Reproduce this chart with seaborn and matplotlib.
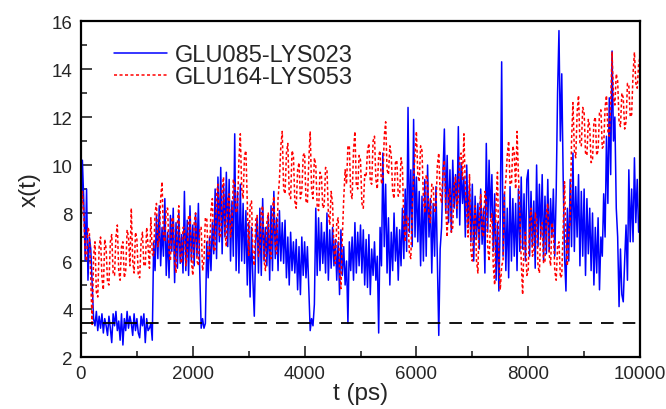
import numpy as np
import matplotlib
matplotlib.use("Agg")
import matplotlib.pyplot as plt
import seaborn as sns
from matplotlib.ticker import MultipleLocator

# GLU085-LYS023 distance, one sample every 25 ps
glu085_lys023 = [
    7.0, 10.2, 8.5, 6.0, 9.0, 5.2, 7.0, 6.5, 5.0, 3.6, 3.3, 3.9, 3.1, 3.7, 3.2, 3.8, 3.0, 3.6, 3.3, 2.9,
    3.7, 3.2, 2.6, 3.8, 3.3, 3.9, 3.1, 3.5, 2.7, 3.8, 2.5, 3.6, 3.1, 3.9, 3.2, 3.7, 3.4, 2.9, 3.8, 3.1,
    3.6, 3.0, 2.8, 3.7, 3.3, 3.8, 2.6, 3.6, 3.1, 3.2, 3.4, 2.7, 6.8, 5.6, 7.9, 6.1, 8.3, 5.8, 7.4, 6.2,
    8.6, 5.4, 7.2, 5.3, 7.9, 6.4, 8.2, 5.1, 7.6, 5.7, 8.0, 5.9, 7.1, 5.5, 8.9, 5.6, 7.7, 5.4, 8.3, 6.0,
    7.5, 5.8, 8.0, 6.2, 8.4, 5.5, 3.2, 3.6, 3.2, 3.4, 6.8, 5.3, 7.0, 5.6, 7.6, 6.3, 9.0, 6.1, 9.5, 6.8,
    9.9, 6.3, 9.2, 7.0, 9.7, 6.6, 9.4, 6.0, 8.5, 6.2, 11.3, 5.6, 8.9, 5.5, 9.2, 6.0, 8.4, 5.9, 8.1, 5.0,
    7.6, 4.5, 7.4, 5.2, 3.7, 6.8, 7.8, 5.5, 8.2, 5.4, 8.6, 6.0, 7.4, 5.8, 7.9, 5.2, 8.3, 5.6, 8.9, 6.1,
    7.8, 5.6, 8.1, 6.0, 7.6, 5.9, 7.7, 5.3, 7.0, 5.0, 7.2, 5.6, 6.8, 5.5, 6.9, 4.8, 6.6, 4.6, 7.0, 5.4,
    6.8, 5.3, 6.6, 4.9, 3.1, 3.6, 3.3, 4.2, 8.2, 5.4, 7.8, 5.6, 7.6, 5.9, 7.2, 5.5, 8.0, 5.2, 7.3, 5.7,
    7.4, 5.8, 6.9, 5.2, 6.8, 4.6, 7.3, 5.4, 6.6, 5.0, 6.0, 3.4, 6.8, 5.6, 7.0, 5.2, 7.6, 5.5, 7.2, 5.8,
    7.5, 5.5, 7.3, 5.0, 6.9, 4.9, 7.1, 4.6, 6.5, 5.4, 6.8, 5.2, 6.2, 3.0, 7.4, 5.8, 10.5, 6.6, 9.2, 5.5,
    7.8, 5.0, 7.2, 5.6, 8.0, 6.0, 7.4, 5.2, 7.3, 5.8, 8.2, 6.1, 9.0, 6.4, 12.4, 7.2, 9.8, 6.6, 11.9, 7.0,
    9.5, 6.8, 8.9, 5.8, 8.7, 6.0, 9.4, 6.2, 10.0, 7.0, 8.6, 5.5, 8.4, 6.2, 9.1, 5.9, 2.9, 6.5, 7.4, 9.6,
    11.5, 8.0, 10.4, 7.6, 9.8, 7.2, 10.2, 8.2, 9.6, 7.8, 11.6, 7.5, 10.1, 8.4, 9.5, 7.0, 10.0, 7.4, 9.2, 6.8,
    9.2, 6.0, 8.7, 6.9, 8.4, 6.5, 9.0, 6.7, 8.2, 5.5, 10.9, 7.2, 10.2, 7.8, 9.6, 6.4, 8.8, 5.2, 7.6, 4.75,
    7.8, 14.3, 6.2, 8.8, 5.6, 8.2, 5.3, 9.1, 6.0, 8.6, 6.2, 8.4, 5.6, 9.0, 6.4, 9.5, 6.5, 8.8, 6.0, 9.4,
    9.8, 6.2, 8.9, 6.6, 8.5, 5.7, 10.0, 6.6, 9.2, 7.0, 9.6, 6.0, 8.7, 6.3, 9.4, 6.4, 8.6, 7.0, 9.0, 6.2,
    8.8, 13.0, 15.6, 11.0, 13.8, 9.5, 6.2, 4.75, 8.2, 6.0, 9.4, 6.6, 10.5, 6.4, 9.1, 7.0, 9.6, 5.8, 8.9, 6.2,
    9.0, 5.4, 8.6, 6.3, 8.2, 5.6, 8.0, 5.0, 7.4, 5.5, 7.8, 4.8, 7.0, 6.2, 8.8, 7.0, 11.2, 8.4, 12.8, 9.6,
    14.75, 11.0, 12.0, 8.2, 7.0, 4.1, 6.5, 4.6, 4.3, 6.0, 7.5, 5.2, 9.8, 6.8, 9.0, 6.8, 10.3, 7.6, 9.4, 7.2,
    7.5,
]

# GLU164-LYS053 distance, one sample every 25 ps
glu164_lys053 = [
    7.5, 8.9, 8.0, 6.3, 6.0, 7.4, 7.2, 5.2, 3.3, 6.2, 6.8, 4.7, 4.5, 6.6, 7.0, 5.3, 4.8, 6.9, 6.5, 5.1,
    5.0, 6.8, 7.1, 5.5, 5.4, 7.0, 7.5, 5.6, 5.2, 6.6, 6.8, 5.3, 5.6, 7.3, 7.0, 5.8, 8.2, 6.0, 5.5, 7.2,
    6.9, 5.4, 5.3, 6.8, 7.2, 5.8, 5.8, 7.4, 6.6, 5.7, 7.8, 6.3, 6.2, 8.0, 8.4, 6.6, 6.9, 8.6, 9.3, 7.0,
    6.8, 8.2, 8.2, 6.4, 6.0, 7.8, 7.8, 6.0, 5.5, 7.6, 8.3, 6.1, 5.9, 7.4, 7.4, 5.8, 6.2, 7.9, 7.9, 6.0,
    5.4, 7.6, 8.0, 6.0, 5.8, 7.4, 7.4, 5.6, 6.0, 7.8, 7.8, 6.1, 6.3, 8.1, 8.6, 6.4, 6.5, 8.8, 9.2, 7.0,
    7.0, 9.0, 9.5, 7.2, 6.6, 8.6, 8.8, 7.0, 7.5, 9.4, 9.2, 8.0, 8.2, 10.2, 11.3, 9.0, 8.6, 10.4, 10.6, 8.4,
    6.2, 8.3, 8.5, 6.4, 5.8, 7.7, 7.9, 6.2, 6.4, 8.1, 8.3, 6.0, 5.6, 7.6, 8.0, 6.4, 6.1, 8.2, 8.7, 6.6,
    6.3, 8.6, 9.4, 10.8, 11.4, 9.0, 8.8, 10.5, 10.9, 8.8, 8.6, 10.6, 10.4, 8.5, 8.2, 9.8, 10.1, 8.6, 8.9, 10.4,
    10.5, 8.5, 8.4, 10.2, 11.4, 9.0, 8.6, 10.3, 10.0, 8.3, 8.1, 9.7, 9.6, 8.2, 8.3, 9.9, 9.8, 8.0, 7.5, 8.9,
    8.4, 6.5, 5.9, 7.6, 7.8, 5.6, 4.85, 7.0, 8.6, 9.8, 9.2, 10.8, 10.8, 8.8, 8.6, 10.6, 11.4, 9.2, 9.0, 10.4,
    10.2, 8.4, 8.2, 9.6, 9.5, 10.6, 10.9, 9.3, 9.2, 11.0, 11.2, 9.4, 9.0, 10.4, 10.6, 9.2, 9.4, 11.2, 11.8, 9.8,
    9.6, 10.8, 10.4, 8.9, 8.6, 10.1, 10.2, 8.7, 8.8, 10.3, 9.9, 7.6, 6.8, 7.9, 7.8, 6.3, 6.1, 8.2, 9.5, 10.4,
    11.4, 9.6, 9.3, 10.8, 10.6, 8.6, 8.0, 9.6, 9.4, 7.8, 7.6, 9.2, 9.1, 8.0, 8.3, 10.0, 10.5, 8.8, 8.4, 9.8,
    10.2, 8.2, 7.0, 8.8, 9.0, 7.2, 7.4, 9.2, 9.5, 8.2, 8.6, 10.4, 10.5, 9.4, 11.3, 9.0, 8.0, 7.0, 9.6, 6.4,
    6.0, 7.6, 8.3, 6.0, 5.5, 8.0, 8.8, 7.2, 7.0, 8.9, 8.6, 6.6, 6.0, 7.6, 8.0, 5.8, 5.0, 8.4, 9.7, 6.2,
    4.8, 5.8, 6.0, 8.8, 9.4, 10.4, 11.0, 9.2, 9.2, 10.8, 10.5, 9.0, 11.4, 9.6, 8.0, 6.0, 4.6, 6.8, 7.2, 5.4,
    5.6, 7.6, 8.2, 6.2, 6.4, 8.0, 7.8, 5.8, 5.5, 7.4, 7.6, 5.9, 6.0, 8.0, 8.4, 6.3, 5.8, 7.6, 7.3, 5.6,
    5.2, 6.6, 6.8, 5.3, 5.4, 7.4, 9.3, 6.8, 5.8, 7.2, 7.6, 11.0, 12.6, 10.6, 10.3, 12.2, 12.9, 10.9, 10.8, 12.4,
    12.2, 10.5, 10.4, 11.9, 11.6, 10.1, 10.2, 11.8, 12.0, 10.4, 10.6, 12.2, 12.3, 10.7, 10.8, 12.4, 12.9, 11.4, 11.2, 12.6,
    14.7, 12.8, 12.5, 13.8, 13.5, 11.8, 11.6, 13.0, 12.8, 11.5, 11.8, 13.4, 13.3, 12.0, 12.1, 13.8, 14.7, 13.4, 13.2, 14.2,
    14.5,
]

cutoff = 3.4
t_end = 10000

t_a = np.linspace(0, t_end, len(glu085_lys023))
t_b = np.linspace(0, t_end, len(glu164_lys053))

sns.set_style("white")
plt.rcParams["font.family"] = ["Liberation Sans", "DejaVu Sans"]

fig = plt.figure(figsize=(6.66, 4.10), dpi=100)
ax = fig.add_axes([0.1216, 0.1268, 0.8394, 0.8195])

sns.lineplot(x=t_a, y=glu085_lys023, ax=ax, color="#0000ff", lw=1.1,
             label="GLU085-LYS023")
sns.lineplot(x=t_b, y=glu164_lys053, ax=ax, color="#ff0000", lw=1.1,
             linestyle=(0, (2, 1.6)), label="GLU164-LYS053")
ax.axhline(cutoff, color="black", lw=1.3, linestyle=(0, (7, 5)))

ax.set_xlim(0, t_end)
ax.set_ylim(2, 16)
ax.xaxis.set_major_locator(MultipleLocator(2000))
ax.xaxis.set_minor_locator(MultipleLocator(1000))
ax.yaxis.set_major_locator(MultipleLocator(2))
ax.yaxis.set_minor_locator(MultipleLocator(1))
ax.tick_params(which="both", direction="in", width=1.2, labelsize=13.5,
               top=False, right=False, bottom=True, left=True, pad=6)
ax.tick_params(which="major", length=8)
ax.tick_params(which="minor", length=4.5)
for s in ax.spines.values():
    s.set_linewidth(1.6)
    s.set_color("black")

ax.set_xlabel("t (ps)", fontsize=17.5, labelpad=0)
ax.set_ylabel("x(t)", fontsize=17.5, labelpad=8)

ax.legend(loc="upper left", frameon=False, fontsize=17, handlelength=2.25,
          handletextpad=0.3, labelspacing=0.0, borderaxespad=0.3,
          bbox_to_anchor=(0.03, 0.98))

fig.savefig("out.png", dpi=100)
